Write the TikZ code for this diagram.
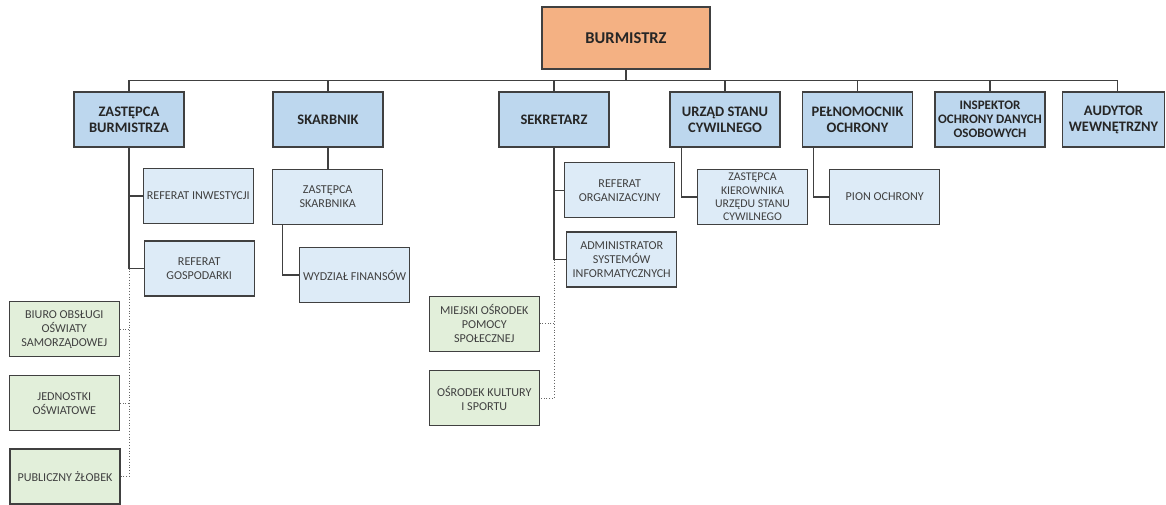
\documentclass[tikz,border=0pt]{standalone}
\usepackage{fontspec}
\setmainfont{Carlito}
\definecolor{orangefill}{HTML}{F4B183}
\definecolor{topfill}{HTML}{BDD7EE}
\definecolor{subfill}{HTML}{DDEBF7}
\definecolor{greenfill}{HTML}{E2EFDA}
\definecolor{edge}{HTML}{404040}
\definecolor{txt}{HTML}{262626}
\begin{document}
\begin{tikzpicture}[x=1pt,y=-1pt,
  basebox/.style={draw=edge, line width=1.2pt, inner sep=0pt, align=center, text=txt},
  chief/.style={basebox, fill=orangefill, minimum width=168pt, minimum height=62pt, font=\bfseries\fontsize{16.5}{19}\selectfont},
  topbox/.style={basebox, fill=topfill, minimum width=110pt, minimum height=55pt, font=\bfseries\fontsize{14.5}{16}\selectfont},
  subbox/.style={basebox, fill=subfill, minimum width=110pt, minimum height=55pt, font=\fontsize{12.1}{14}\selectfont, text=edge},
  unitbox/.style={basebox, fill=greenfill, minimum width=110pt, minimum height=55pt, font=\fontsize{12.1}{14}\selectfont, text=edge},
  link/.style={draw=edge, line width=1.1pt},
  dotlink/.style={draw=edge!80, line width=0.8pt, dotted}]
\useasboundingbox (0,0) rectangle (1166,505);
\fill[white] (0,0) rectangle (1166,505);

% top
\node[chief] (bm) at (626,38) {BURMISTRZ};

% second row
\node[topbox] (zb) at (129,119.5) {ZASTĘPCA\\BURMISTRZA};
\node[topbox] (sk) at (328,119.5) {SKARBNIK};
\node[topbox] (se) at (554,119.5) {SEKRETARZ};
\node[topbox] (usc) at (725,119.5) {URZĄD STANU\\CYWILNEGO};
\node[topbox] (pel) at (857.5,119.5) {PEŁNOMOCNIK\\OCHRONY};
\node[topbox, font=\bfseries\fontsize{13}{14}\selectfont] (insp) at (990,119.5) {INSPEKTOR\\OCHRONY DANYCH\\OSOBOWYCH};
\node[topbox, minimum width=102pt] (aud) at (1113.5,119.5) {AUDYTOR\\WEWNĘTRZNY};

% sub boxes
\node[subbox] (ri) at (198.3,196) {REFERAT INWESTYCJI};
\node[subbox] (rg) at (199.2,268.5) {REFERAT\\GOSPODARKI};
\node[subbox] (zs) at (327.7,197) {ZASTĘPCA\\SKARBNIKA};
\node[subbox] (wf) at (354.7,275) {WYDZIAŁ FINANSÓW};
\node[subbox] (ro) at (619.7,190.2) {REFERAT\\ORGANIZACYJNY};
\node[subbox] (asi) at (621.7,259.5) {ADMINISTRATOR\\SYSTEMÓW\\INFORMATYCZNYCH};
\node[subbox, font=\fontsize{11.8}{13.3}\selectfont] (zk) at (752.5,197) {ZASTĘPCA\\KIEROWNIKA\\URZĘDU STANU\\CYWILNEGO};
\node[subbox] (po) at (884.7,197) {PION OCHRONY};

% green units
\node[unitbox] (bo) at (64.3,329.3) {BIURO OBSŁUGI\\OŚWIATY\\SAMORZĄDOWEJ};
\node[unitbox] (jo) at (64.3,403.3) {JEDNOSTKI\\OŚWIATOWE};
\node[unitbox] (pz) at (65,476.5) {PUBLICZNY ŻŁOBEK};
\node[unitbox] (mo) at (484.3,323.8) {MIEJSKI OŚRODEK\\POMOCY\\SPOŁECZNEJ};
\node[unitbox] (ok) at (484.3,398.3) {OŚRODEK KULTURY\\I SPORTU};

% main bus
\coordinate (bus) at (0,80.7);
\coordinate (audtop) at (1117.7,92);
\draw[link] (bm.south) -- (bm.south |- bus);
\draw[link] (zb.north) -- (zb.north |- bus) -- (audtop |- bus) -- (audtop);
\draw[link] (sk.north) -- (sk.north |- bus);
\draw[link] (se.north) -- (se.north |- bus);
\draw[link] (usc.north) -- (usc.north |- bus);
\draw[link] (pel.north) -- (pel.north |- bus);
\draw[link] (insp.north) -- (insp.north |- bus);

% zastepca burmistrza
\draw[link] (zb.south) -- (zb.south |- rg.west) -- (rg.west);
\draw[link] (zb.south |- ri.west) -- (ri.west);
\draw[dotlink] (zb.south |- rg.west) -- (zb.south |- pz.east) -- (pz.east);
\draw[dotlink] (zb.south |- bo.east) -- (bo.east);
\draw[dotlink] (zb.south |- jo.east) -- (jo.east);

% skarbnik
\draw[link] (sk.south) -- (sk.south |- zs.north);
\draw[link] ([xshift=10.6pt]zs.south west) |- (wf.west);

% sekretarz
\draw[link] (se.south) -- (se.south |- asi.west) -- (asi.west);
\draw[link] (se.south |- ro.west) -- (ro.west);
\draw[dotlink] (se.south |- asi.west) -- (se.south |- ok.east) -- (ok.east);
\draw[dotlink] (se.south |- mo.east) -- (mo.east);

% usc, pelnomocnik
\draw[link] ([xshift=11.7pt]usc.south west) |- (zk.west);
\draw[link] ([xshift=11.3pt]pel.south west) |- (po.west);
\end{tikzpicture}
\end{document}
